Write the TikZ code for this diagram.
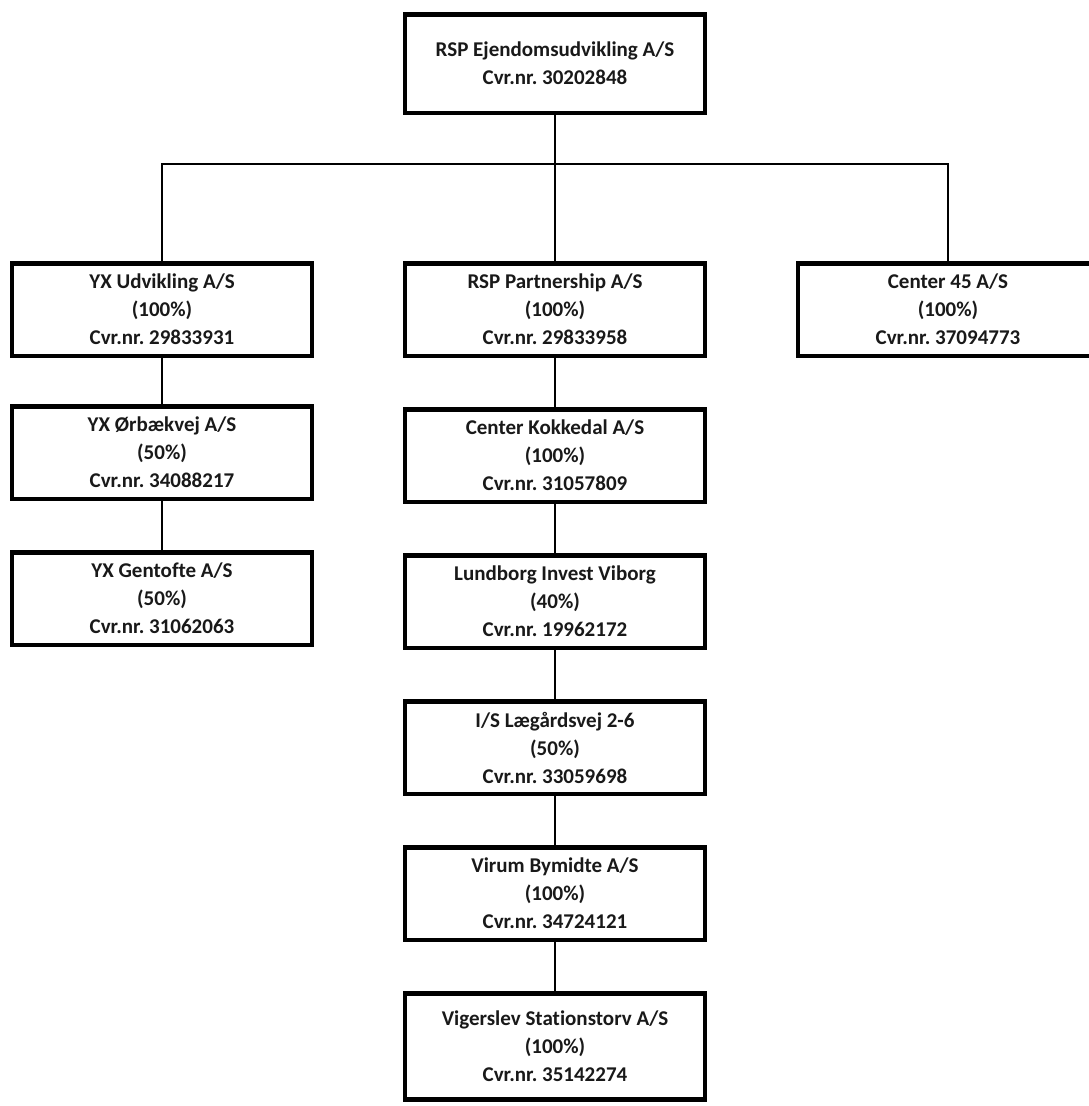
\documentclass[tikz,border=0pt]{standalone}
\usepackage{fontspec}
\setmainfont[Ligatures={TeX,NoCommon}]{Carlito}
\usetikzlibrary{positioning, calc}
\definecolor{cBoxDraw}{RGB}{0, 0, 0}
\definecolor{cBoxText}{RGB}{25, 25, 25}
\tikzset{
    orgBox/.style={
        rectangle, draw=cBoxDraw, line width=4.5pt, fill=white,
        minimum width=300pt, minimum height=92.5pt,
        align=center, text=cBoxText,
        font=\fontsize{21}{28}\selectfont\bfseries,
        execute at begin node=\rule{0pt}{26pt},
        inner sep=0pt
    },
    link/.style={
        draw=cBoxDraw, line width=1.6pt
    }
}
\newcommand{\share}[1]{(#1\%)}
\newcommand{\cvr}[1]{Cvr.nr. #1}
\frenchspacing

\begin{document}
\begin{tikzpicture}[x=1pt, y=1pt]
    \useasboundingbox (0,0) rectangle (1089,-1106);
    \clip (0,0) rectangle (1089,-1106);

    % parent
    \node [orgBox, minimum height=98.5pt] (ejd) at (555,-63.5)
        {RSP Ejendomsudvikling A/S\\\cvr{30202848}};

    % first level
    \node [orgBox] (yxUdv) at (162,-309.5)
        {YX Udvikling A/S\\\share{100}\\\cvr{29833931}};
    \node [orgBox] (rspPart) at (555,-309.5)
        {RSP Partnership A/S\\\share{100}\\\cvr{29833958}};
    \node [orgBox] (center45) at (948,-309.5)
        {Center 45 A/S\\\share{100}\\\cvr{37094773}};

    % left branch
    \node [orgBox, below=46pt of yxUdv] (yxOrb)
        {YX Ørbækvej A/S\\\share{50}\\\cvr{34088217}};
    \node [orgBox, below=49pt of yxOrb] (yxGent)
        {YX Gentofte A/S\\\share{50}\\\cvr{31062063}};

    % middle branch
    \node [orgBox, below=49pt of rspPart] (kokkedal)
        {Center Kokkedal A/S\\\share{100}\\\cvr{31057809}};
    \node [orgBox, below=49pt of kokkedal] (lundborg)
        {Lundborg Invest Viborg\\\share{40}\\\cvr{19962172}};
    \node [orgBox, below=49pt of lundborg] (laegard)
        {I/S Lægårdsvej 2-6\\\share{50}\\\cvr{33059698}};
    \node [orgBox, below=49pt of laegard] (virum)
        {Virum Bymidte A/S\\\share{100}\\\cvr{34724121}};
    \node [orgBox, below=49pt of virum, minimum height=106pt] (vigerslev)
        {Vigerslev Stationstorv A/S\\\share{100}\\\cvr{35142274}};

    % connectors
    \coordinate (bus) at (555,-164);
    \draw [link] (ejd) -- (bus);
    \draw [link] (yxUdv.north) |- (bus) -| (center45.north);
    \draw [link] (bus) -- (rspPart);
    \draw [link] (yxUdv) -- (yxOrb);
    \draw [link] (yxOrb) -- (yxGent);
    \draw [link] (rspPart) -- (kokkedal);
    \draw [link] (kokkedal) -- (lundborg);
    \draw [link] (lundborg) -- (laegard);
    \draw [link] (laegard) -- (virum);
    \draw [link] (virum) -- (vigerslev);
\end{tikzpicture}
\end{document}
